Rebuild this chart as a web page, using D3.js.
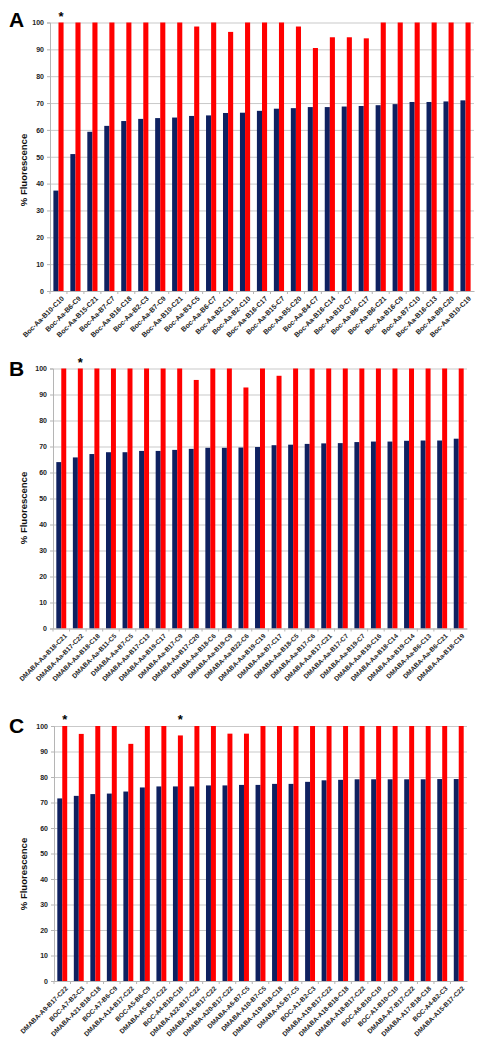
<!DOCTYPE html>
<html>
<head>
<meta charset="utf-8">
<script src="https://cdn.jsdelivr.net/npm/d3@7"></script>
<style>
  html, body { margin: 0; padding: 0; background: #fff; }
  svg { display: block; }
</style>
</head>
<body>
<script>
// ---------- DATA ----------
const yTicks = [0, 10, 20, 30, 40, 50, 60, 70, 80, 90, 100];

const catsA = ["Boc-Aa-B10-C10","Boc-Aa-B6-C9","Boc-Aa-B15-C21","Boc-Aa-B7-C7","Boc-Aa-B16-C18",
  "Boc-Aa-B2-C3","Boc-Aa-B7-C9","Boc-Aa-B10-C21","Boc-Aa-B3-C5","Boc-Aa-B6-C7",
  "Boc-Aa-B2-C11","Boc-Aa-B2-C10","Boc-Aa-B16-C17","Boc-Aa-B15-C7","Boc-Aa-B5-C20",
  "Boc-Aa-B4-C7","Boc-Aa-B16-C14","Boc-Aa-B10-C7","Boc-Aa-B6-C17","Boc-Aa-B6-C21",
  "Boc-Aa-B16-C9","Boc-Aa-B7-C10","Boc-Aa-B16-C13","Boc-Aa-B9-C20","Boc-Aa-B10-C19"];
const navyA = [37.4, 51.0, 59.3, 61.5, 63.3, 64.1, 64.4, 64.6, 65.2, 65.4, 66.3, 66.4, 67.1, 67.9, 68.1,
  68.5, 68.5, 68.7, 68.9, 69.2, 69.6, 70.4, 70.4, 70.6, 71.0];
const redA = [100, 100, 100, 100, 100, 100, 100, 100, 98.5, 100, 96.5, 100, 100, 100, 98.5,
  90.5, 94.5, 94.5, 94.1, 100, 100, 100, 100, 100, 100];
const starsA = [0];

const catsB = ["DMABA-Aa-B18-C21","DMABA-Aa-B17-C22","DMABA-Aa-B18-C18","DMABA-Aa-B11-C5","DMABA-Aa-B7-C5",
  "DMABA-Aa-B17-C13","DMABA-Aa-B19-C17","DMABA-Aa-B17-C9","DMABA-Aa-B17-C20","DMABA-Aa-B18-C6",
  "DMABA-Aa-B19-C9","DMABA-Aa-B22-C6","DMABA-Aa-B19-C19","DMABA-Aa-B7-C17","DMABA-Aa-B18-C5",
  "DMABA-Aa-B17-C6","DMABA-Aa-B17-C21","DMABA-Aa-B17-C7","DMABA-Aa-B19-C7","DMABA-Aa-B19-C16",
  "DMABA-Aa-B18-C14","DMABA-Aa-B19-C14","DMABA-Aa-B6-C13","DMABA-Aa-B6-C21","DMABA-Aa-B18-C19"];
const navyB = [64.0, 65.8, 67.1, 67.8, 67.8, 68.3, 68.3, 68.7, 69.1, 69.5, 69.5, 69.6, 69.8, 70.5, 70.7,
  71.0, 71.2, 71.3, 71.7, 71.9, 71.9, 72.2, 72.3, 72.3, 73.0];
const redB = [100, 100, 100, 100, 100, 100, 100, 100, 95.6, 100, 100, 92.7, 100, 97.2, 100,
  100, 100, 100, 100, 100, 100, 100, 100, 100, 100];
const starsB = [1];

const catsC = ["DMABA-A9-B17-C22","BOC-A7-B2-C3","DMABA-A21-B18-C18","BOC-A7-B6-C9","DMABA-A14-B17-C22",
  "BOC-A5-B6-C9","DMABA-A5-B17-C22","BOC-A4-B10-C10","DMABA-A22-B17-C22","DMABA-A16-B17-C22",
  "DMABA-A20-B17-C22","DMABA-A6-B7-C5","DMABA-A10-B7-C5","DMABA-A19-B18-C18","DMABA-A5-B7-C5",
  "BOC-A1-B2-C3","DMABA-A19-B17-C22","DMABA-A18-B18-C18","DMABA-A18-B17-C22","BOC-A6-B10-C10",
  "BOC-A1-B10-C10","DMABA-A7-B17-C22","DMABA-A17-B18-C18","BOC-A4-B2-C3","DMABA-A15-B17-C22"];
const navyC = [71.6, 72.6, 73.3, 73.5, 74.3, 75.9, 76.3, 76.3, 76.3, 76.7, 76.7, 76.9, 76.9, 77.3, 77.3,
  78.1, 78.7, 78.9, 79.1, 79.1, 79.1, 79.1, 79.1, 79.2, 79.2];
const redC = [100, 96.9, 100, 100, 93.0, 100, 100, 96.3, 100, 100, 97.0, 97.0, 100, 100, 100,
  100, 100, 100, 100, 100, 100, 100, 100, 100, 100];
const starsC = [0, 7];

const seriesKeys = ["navy", "red"];
const yTitle = "% Fluorescence";

// ---------- DRAW ----------
const W = 482, H = 1050;
const svg = d3.select("body").append("svg").attr("width", W).attr("height", H)
  .style("background", "#fff");

const colors = { navy: "#0f2160", red: "#ff0000" };

function panel(cfg) {
  const g = svg.append("g");
  const x0 = d3.scaleBand().domain(cfg.cats).range([cfg.left, cfg.right])
    .paddingInner(0.4).paddingOuter(0.2);
  const x1 = d3.scaleBand().domain(seriesKeys).range([0, x0.bandwidth()]).padding(0);
  const y = d3.scaleLinear().domain([0, 100]).range([cfg.bottom, cfg.top]);

  // gridlines
  g.append("g").selectAll("line").data(yTicks).join("line")
    .attr("x1", cfg.left).attr("x2", cfg.right)
    .attr("y1", d => y(d) + 0.5).attr("y2", d => y(d) + 0.5)
    .attr("stroke", "#c9c9c9").attr("stroke-width", 1);

  // y axis
  const ya = g.append("g").attr("transform", `translate(${cfg.left},0)`)
    .call(d3.axisLeft(y).tickValues(yTicks).tickSize(3).tickPadding(3));
  ya.select(".domain").attr("stroke", "#b5b5b5");
  ya.selectAll(".tick line").attr("stroke", "#b5b5b5");
  ya.selectAll("text").attr("font-family", "Liberation Sans, Arial, sans-serif")
    .attr("font-size", 7).attr("font-weight", "bold").attr("fill", "#222");

  // bars
  const data = cfg.cats.map((c, i) => ({ cat: c, navy: cfg.navy[i], red: cfg.red[i] }));
  const grp = g.append("g").selectAll("g").data(data).join("g")
    .attr("transform", d => `translate(${x0(d.cat)},0)`);
  grp.selectAll("rect").data(d => seriesKeys.map(k => ({ key: k, value: d[k] }))).join("rect")
    .attr("x", d => x1(d.key)).attr("width", x1.bandwidth())
    .attr("y", d => y(d.value)).attr("height", d => y(0) - y(d.value))
    .attr("fill", d => colors[d.key]);

  // x axis
  const xa = g.append("g").attr("transform", `translate(0,${cfg.bottom})`)
    .call(d3.axisBottom(x0).tickSize(3).tickSizeOuter(0).tickFormat(d => d));
  xa.select(".domain").attr("stroke", "#b5b5b5");
  xa.selectAll(".tick line").attr("stroke", "#b5b5b5")
    .attr("transform", `translate(${-x0.step() / 2},0)`);
  xa.selectAll(".tick text")
    .attr("font-family", "Liberation Sans, Arial, sans-serif")
    .attr("font-size", cfg.labelSize).attr("font-weight", "bold").attr("fill", "#222")
    .attr("text-anchor", "end")
    .attr("y", 0).attr("dy", 0)
    .attr("transform", "translate(6,8) rotate(-45)");

  // asterisks
  g.append("g").selectAll("text").data(cfg.stars).join("text")
    .attr("x", i => x0(cfg.cats[i]) + x1("red") + x1.bandwidth() / 2)
    .attr("y", cfg.top - 2)
    .attr("text-anchor", "middle")
    .attr("font-family", "Liberation Sans, Arial, sans-serif")
    .attr("font-size", 13).attr("font-weight", "bold")
    .text("*");

  // panel letter
  g.append("text").attr("x", 9).attr("y", cfg.letterY)
    .attr("font-family", "Liberation Sans, Arial, sans-serif")
    .attr("font-size", 21).attr("font-weight", "bold").text(cfg.letter);

  // y title
  g.append("text")
    .attr("transform", `translate(27,${cfg.titleY}) rotate(-90)`)
    .attr("text-anchor", "middle")
    .attr("font-family", "Liberation Sans, Arial, sans-serif")
    .attr("font-size", 9.5).attr("font-weight", "bold").attr("fill", "#111")
    .text(yTitle);
}

panel({ cats: catsA, navy: navyA, red: redA, stars: starsA, letter: "A",
  left: 50, right: 474, top: 22.5, bottom: 291, letterY: 27, titleY: 170, labelSize: 7 });
panel({ cats: catsB, navy: navyB, red: redB, stars: starsB, letter: "B",
  left: 53, right: 467, top: 368.5, bottom: 628.5, letterY: 376, titleY: 508, labelSize: 6.6 });
panel({ cats: catsC, navy: navyC, red: redC, stars: starsC, letter: "C",
  left: 54, right: 467, top: 726, bottom: 981, letterY: 733, titleY: 874, labelSize: 6.6 });
</script>
</body>
</html>
